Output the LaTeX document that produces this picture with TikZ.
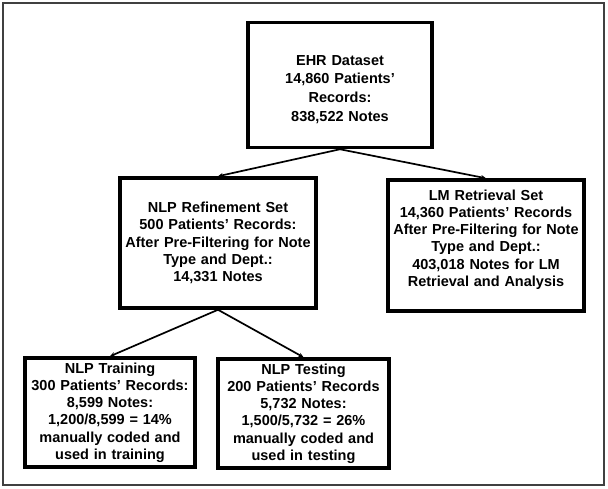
\documentclass[tikz,border=0pt]{standalone}
\usepackage{fontspec}
\setmainfont{Liberation Sans}
\usetikzlibrary{arrows.meta}

\tikzset{
  box/.style={draw, line width=3.5pt, align=center, inner sep=0pt,
    font=\bfseries\fontsize{14.5}{17.2}\selectfont},
  link/.style={line width=1.7pt, -{Stealth[length=5pt,width=4.5pt]}}
}

\begin{document}
\begin{tikzpicture}[x=1pt, y=-1pt]
                \useasboundingbox (0,0) rectangle (608,488);
                \draw[line width=1.2pt, black!75] (3,3) rectangle (604,485);
                % top
                \node[box, text width=180pt, minimum width=184pt, minimum height=125pt,
                  font=\bfseries\fontsize{14.5}{18.8}\selectfont] (ehr) at (340,85)
                  {\rule{0pt}{19pt}EHR Dataset\\14,860 Patients'\\Records:\\838,522 Notes};
                % middle
                \node[box, text width=192pt, minimum width=196pt, minimum height=130pt] (nlp) at (218,243)
                  {NLP Refinement Set\\500 Patients' Records:\\After Pre-Filtering for Note\\Type and Dept.:\\14,331 Notes};
                \node[box, text width=192pt, minimum width=196pt, minimum height=131pt] (lm) at (486,245.5)
                  {LM Retrieval Set\\14,360 Patients' Records\\After Pre-Filtering for Note\\Type and Dept.:\\403,018 Notes for LM\\Retrieval and Analysis\rule[-15pt]{0pt}{15pt}};
                % bottom
                \node[box, text width=166pt, minimum width=170pt, minimum height=109pt] (train) at (110,412.5)
                  {NLP Training\\300 Patients' Records:\\8,599 Notes:\\1,200/8,599 = 14\%\\manually coded and\\used in training};
                \node[box, text width=167pt, minimum width=171pt, minimum height=109pt] (test) at (303.5,413.5)
                  {NLP Testing\\200 Patients' Records\\5,732 Notes:\\1,500/5,732 = 26\%\\manually coded and\\used in testing};
                \draw[link] (ehr.south) -- (nlp.north);
                \draw[link] (ehr.south) -- (lm.north);
                \draw[link] (nlp.south) -- (train.north);
                \draw[link] (nlp.south) -- (test.north);
            \end{tikzpicture}
\end{document}
